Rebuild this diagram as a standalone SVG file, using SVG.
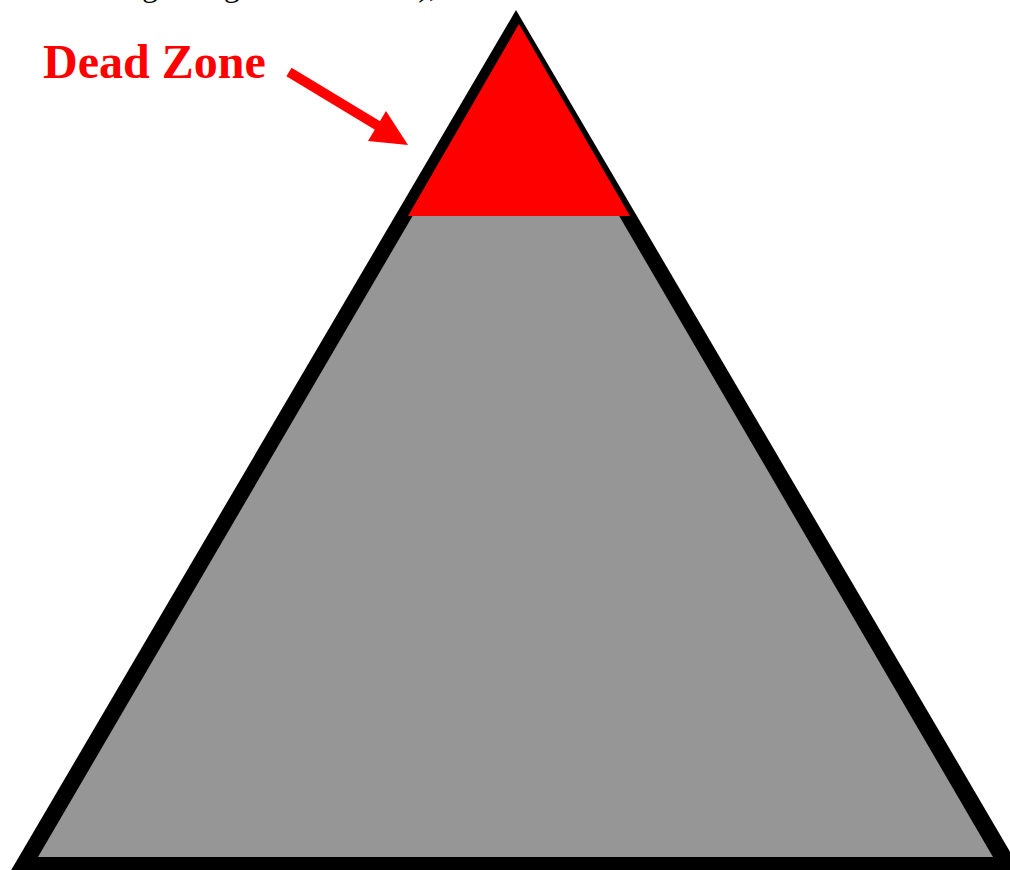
<svg xmlns="http://www.w3.org/2000/svg" width="1010" height="870" viewBox="0 0 1010 870">
  <style>
    .cut { font-family: "Liberation Serif", "Times New Roman", serif; font-size: 32px; fill: #000; }
    .label { font-family: "Liberation Serif", "Times New Roman", serif; font-size: 48px; font-weight: bold; fill: #ff0000; }
  </style>
  <rect x="0" y="0" width="1010" height="870" fill="#fff"/>
  <text class="cut" x="437" y="-4" text-anchor="end">d at the beginning of a variation),</text>
  <g id="mountain">
    <polygon points="516,10 1029,884 3,884" fill="#000"/>
    <polygon points="516,39 993,857 38,857" fill="#969696"/>
  </g>
  <g id="dead-zone">
    <polygon points="519,24 630,216 408,216" fill="#ff0000"/>
  </g>
  <g id="label">
    <text class="label" x="43" y="78">Dead Zone</text>
  </g>
  <g id="connectors">
    <line x1="289" y1="72" x2="380" y2="127" stroke="#ff0000" stroke-width="10"/>
    <polygon points="408,145 386,111 368,141" fill="#ff0000"/>
  </g>
</svg>
